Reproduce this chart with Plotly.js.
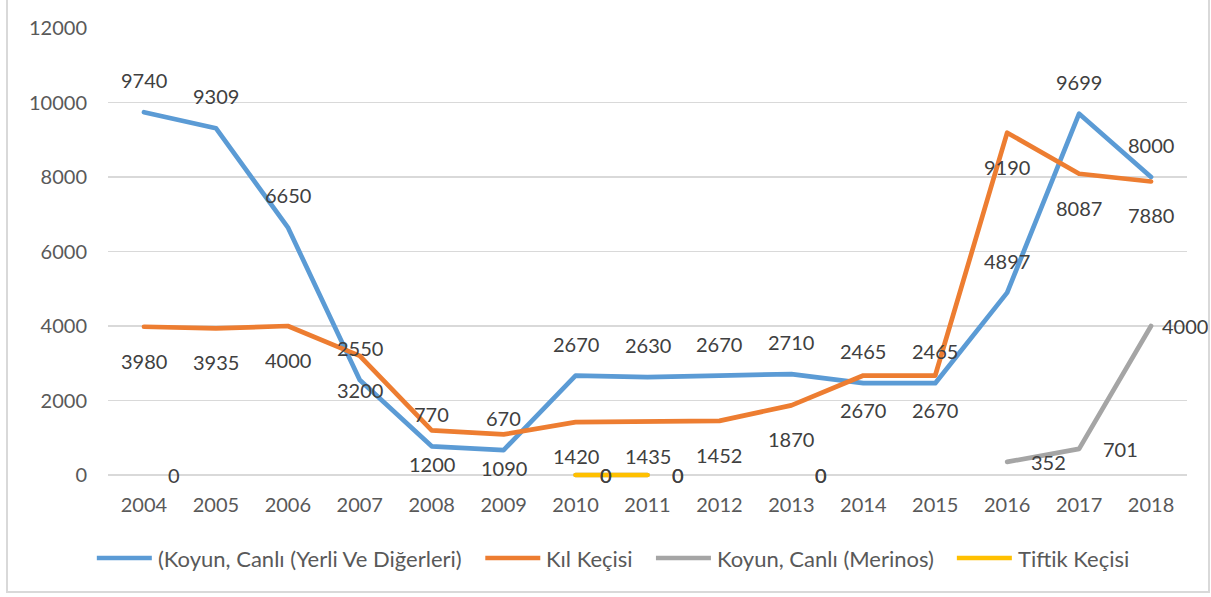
<!DOCTYPE html>
<html>
<head>
<meta charset="utf-8">
<script src="https://cdn.plot.ly/plotly-3.0.1.min.js"></script>
<style>
  html, body { margin: 0; padding: 0; background: #ffffff; }
  #wrap { position: relative; width: 1211px; height: 597px; overflow: hidden; }
  #chart { position: absolute; left: 0; top: 0; width: 1211px; height: 597px; }
  #frame { position: absolute; left: 6px; top: -4px; width: 1204px; height: 597px;
           border: 2px solid #d9d9d9; pointer-events: none; box-sizing: border-box; }
  .js-line { stroke-linejoin: round; stroke-linecap: round; }
</style>
</head>
<body>
<div id="wrap">
  <div id="chart"></div>
  <div id="frame"></div>
</div>
<script>
// ---- data ----
const categories = ['2004','2005','2006','2007','2008','2009','2010','2011','2012','2013','2014','2015','2016','2017','2018'];
const seriesNames = ['(Koyun, Canlı (Yerli Ve Diğerleri)', 'Kıl Keçisi', 'Koyun, Canlı (Merinos)', 'Tiftik Keçisi'];
const yerli   = [9740, 9309, 6650, 2550, 770, 670, 2670, 2630, 2670, 2710, 2465, 2465, 4897, 9699, 8000];
const kil     = [3980, 3935, 4000, 3200, 1200, 1090, 1420, 1435, 1452, 1870, 2670, 2670, 9190, 8087, 7880];
const merinos = [0, null, null, null, null, null, 0, 0, null, 0, null, null, 352, 701, 4000];
const tiftik  = [null, null, null, null, null, null, 0, 0, null, 0, null, null, null, null, null];
const yTicks  = [0, 2000, 4000, 6000, 8000, 10000, 12000];
const yMax = 12000;

// ---- styling ----
const colors = ['#5B9BD5', '#ED7D31', '#A5A5A5', '#FFC000'];
const FONT = 'Lato, "Open Sans", sans-serif';
const W = 1211, H = 597;
const padPx = 8;                       // room below the zero line so lines on 0 are not clipped
const M = { l: 108, r: 24, t: 28, b: 122 - padPx };
const plotW = W - M.l - M.r, plotH = H - M.t - M.b;
const yMin = -padPx * yMax / (plotH - padPx);
const labelColor = '#404040', tickColor = '#595959';
const fontSize = 20, legendFontSize = 22;

const allSeries = [yerli, kil, merinos, tiftik];
// label placement per series: 'above', 'below', 'right'
const labelPos = ['above', 'below', 'right', 'right'];

const traces = allSeries.map((vals, k) => ({
  type: 'scatter', mode: 'lines', name: seriesNames[k],
  x: categories, y: vals, connectgaps: false, cliponaxis: false,
  line: { color: colors[k], width: 4.7 },
  hoverinfo: 'skip', showlegend: false
}));

// text width measuring
const cnv = document.createElement('canvas');
const ctx = cnv.getContext('2d');
function tw(s, size) { ctx.font = size + 'px ' + FONT; return ctx.measureText(s).width; }

const annotations = [];
allSeries.forEach((vals, k) => {
  vals.forEach((v, i) => {
    if (v === null) return;
    const txt = String(v);
    const a = { x: i, y: v, xref: 'x', yref: 'y', text: txt, showarrow: false,
                font: { family: FONT, size: fontSize, color: labelColor } };
    if (labelPos[k] === 'above') { a.yshift = 32; a.xanchor = 'center'; a.yanchor = 'middle'; }
    else if (labelPos[k] === 'below') { a.yshift = -34; a.xanchor = 'center'; a.yanchor = 'middle'; }
    else {
      const px = M.l + (i + 0.5) * plotW / categories.length;
      let shift = 22;
      const w = tw(txt, fontSize);
      if (px + shift + w > W - 5) shift = W - 5 - w - px;
      a.xshift = shift; a.xanchor = 'left'; a.yanchor = 'middle';
    }
    annotations.push(a);
  });
});

// custom legend (long line symbols as in the reference)
const legLine = 55, legGap = 4, legItemGap = 25, legCenterPx = 612, legYpx = 558;
const widths = seriesNames.map(n => tw(n, legendFontSize));
const total = widths.reduce((s, w) => s + legLine + legGap + w, 0) + legItemGap * (seriesNames.length - 1);
let cur = legCenterPx - total / 2;
const legY = -(legYpx - (H - M.b)) / plotH;
const shapes = [];
seriesNames.forEach((n, k) => {
  const x0 = (cur - M.l) / plotW, x1 = (cur + legLine - M.l) / plotW;
  shapes.push({ type: 'line', xref: 'paper', yref: 'paper', x0: x0, x1: x1, y0: legY, y1: legY,
                line: { color: colors[k], width: 4.7 } });
  const tx = (cur + legLine + legGap - M.l) / plotW;
  annotations.push({ xref: 'paper', yref: 'paper', x: tx, y: legY, xanchor: 'left', yanchor: 'middle',
                     text: n, showarrow: false, font: { family: FONT, size: legendFontSize, color: tickColor } });
  cur += legLine + legGap + widths[k] + legItemGap;
});

const layout = {
  width: W, height: H,
  margin: M,
  paper_bgcolor: '#ffffff', plot_bgcolor: '#ffffff',
  showlegend: false,
  font: { family: FONT, size: fontSize, color: tickColor },
  xaxis: {
    type: 'category', categoryorder: 'array', categoryarray: categories,
    range: [-0.5, categories.length - 0.5], autorange: false,
    showgrid: false, showline: false, zeroline: false, ticks: '',
    tickfont: { family: FONT, size: fontSize, color: tickColor },
    ticklabelstandoff: 16 - padPx, fixedrange: true
  },
  yaxis: {
    range: [yMin, yMax], autorange: false, tickvals: yTicks, ticktext: yTicks.map(String),
    showgrid: true, gridcolor: '#d9d9d9', gridwidth: 1.3,
    showline: false, zeroline: false, ticks: '',
    tickfont: { family: FONT, size: fontSize, color: tickColor },
    ticklabelstandoff: 20, fixedrange: true
  },
  annotations: annotations,
  shapes: shapes
};

Plotly.newPlot('chart', traces, layout, { displayModeBar: false, staticPlot: true });
</script>
</body>
</html>
